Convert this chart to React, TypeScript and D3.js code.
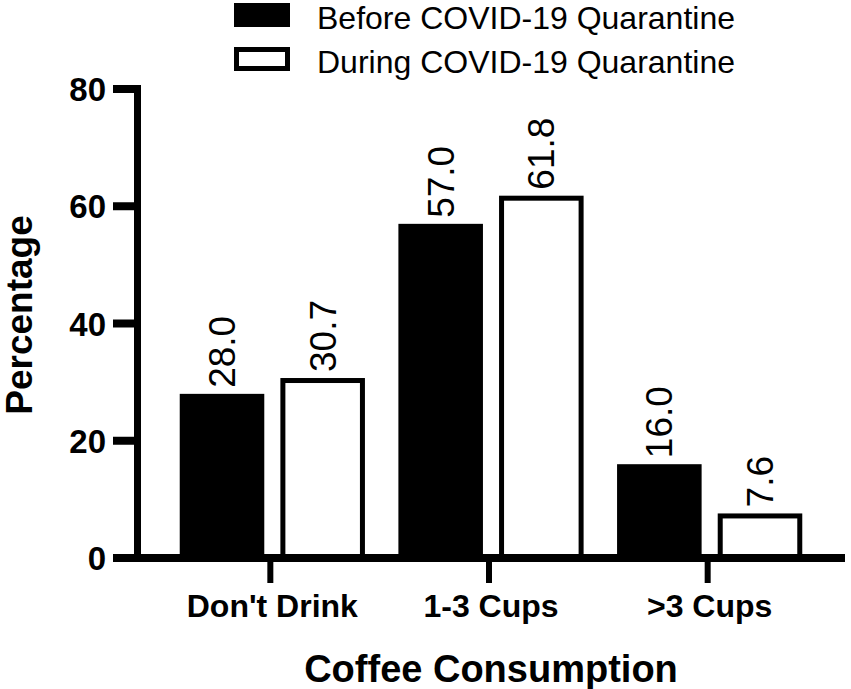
import * as d3 from "d3";
import { useEffect, useRef } from "react";

// Coffee consumption before / during COVID-19 quarantine (% of respondents)
const categories = ["Don't Drink", "1-3 Cups", ">3 Cups"];
const seriesNames = ["Before COVID-19 Quarantine", "During COVID-19 Quarantine"];
const before = [28.0, 57.0, 16.0];
const during = [30.7, 61.8, 7.6];
const yTicks = [0, 20, 40, 60, 80];

const FONT = "'Liberation Sans', Arial, Helvetica, sans-serif";

function CoffeeChart({ width = 851, height = 689 }: { width?: number; height?: number }) {
  const ref = useRef<SVGSVGElement>(null);
  useEffect(() => {
    if (!ref.current) return;
    const svg = d3.select(ref.current);
    svg.selectAll("*").remove();
    svg.attr("font-family", FONT);

    const axisX = 137.5; // y-axis line centre
    const axisEnd = 845;
    const lw = 7;

    const x = d3.scaleBand<string>().domain(categories).range([163, 819])
      .paddingInner(0.153).paddingOuter(0.0765);
    const xs = d3.scaleBand<string>().domain(seriesNames).range([0, x.bandwidth()]).paddingInner(0.16);
    const y = d3.scaleLinear().domain([0, 80]).range([558, 89]);

    const rows = categories.map((c, i) => ({ c, vals: [before[i], during[i]] }));

    // bars
    const g = svg.append("g");
    rows.forEach((r) => {
      r.vals.forEach((v, si) => {
        const s = seriesNames[si];
        const bx = (x(r.c) ?? 0) + (xs(s) ?? 0);
        const bw = xs.bandwidth();
        if (si === 0) {
          g.append("rect").attr("x", bx).attr("y", y(v))
            .attr("width", bw).attr("height", y(0) - y(v)).attr("fill", "#000");
        } else {
          g.append("rect").attr("x", bx + 2.5).attr("y", y(v) + 2.5)
            .attr("width", bw - 5).attr("height", y(0) - y(v) - 2.5)
            .attr("fill", "#fff").attr("stroke", "#000").attr("stroke-width", 5);
        }
        const cx = bx + bw / 2;
        const ty = y(v) - 6;
        g.append("text")
          .attr("transform", `translate(${cx + 13},${ty}) rotate(-90)`)
          .attr("font-size", 37).attr("fill", "#000")
          .text(v.toFixed(1));
      });
    });

    // y axis
    svg.append("line").attr("x1", axisX).attr("x2", axisX)
      .attr("y1", y(80) - 4).attr("y2", y(0) + 4)
      .attr("stroke", "#000").attr("stroke-width", lw);
    yTicks.forEach((t) => {
      svg.append("line").attr("x1", 113).attr("x2", axisX)
        .attr("y1", y(t)).attr("y2", y(t))
        .attr("stroke", "#000").attr("stroke-width", 8);
      svg.append("text").attr("x", 106).attr("y", y(t) + 12)
        .attr("text-anchor", "end").attr("font-size", 33).attr("font-weight", "bold")
        .text(String(t));
    });

    // x axis
    svg.append("line").attr("x1", axisX).attr("x2", axisEnd)
      .attr("y1", y(0)).attr("y2", y(0))
      .attr("stroke", "#000").attr("stroke-width", 8);
    categories.forEach((c) => {
      const cx = (x(c) ?? 0) + x.bandwidth() / 2 - 2;
      svg.append("line").attr("x1", cx).attr("x2", cx)
        .attr("y1", y(0)).attr("y2", y(0) + 25)
        .attr("stroke", "#000").attr("stroke-width", 6);
      svg.append("text").attr("x", cx + 2).attr("y", 617)
        .attr("text-anchor", "middle").attr("font-size", 32).attr("font-weight", "bold")
        .text(c);
    });

    // axis titles
    svg.append("text").attr("x", (x(categories[1]) ?? 0) + x.bandwidth() / 2).attr("y", 682)
      .attr("text-anchor", "middle").attr("font-size", 38).attr("font-weight", "bold")
      .text("Coffee Consumption");
    svg.append("text").attr("transform", `translate(32,315) rotate(-90)`)
      .attr("text-anchor", "middle").attr("font-size", 37).attr("font-weight", "bold")
      .text("Percentage");

    // legend
    const lg = svg.append("g");
    seriesNames.forEach((s, i) => {
      const top = 3 + i * 44;
      if (i === 0) {
        lg.append("rect").attr("x", 234).attr("y", top).attr("width", 56).attr("height", 24)
          .attr("fill", "#000");
      } else {
        lg.append("rect").attr("x", 236.5).attr("y", top + 2.5).attr("width", 51).attr("height", 19)
          .attr("fill", "#fff").attr("stroke", "#000").attr("stroke-width", 5);
      }
      lg.append("text").attr("x", 317).attr("y", top + 26)
        .attr("font-size", 32).text(s);
    });
  }, [width, height]);
  return <svg ref={ref} width={width} height={height} style={{ display: "block" }} />;
}

export default function App() {
  return (
    <div style={{ position: "absolute", left: 0, top: 0, background: "#fff" }}>
      <CoffeeChart />
    </div>
  );
}
